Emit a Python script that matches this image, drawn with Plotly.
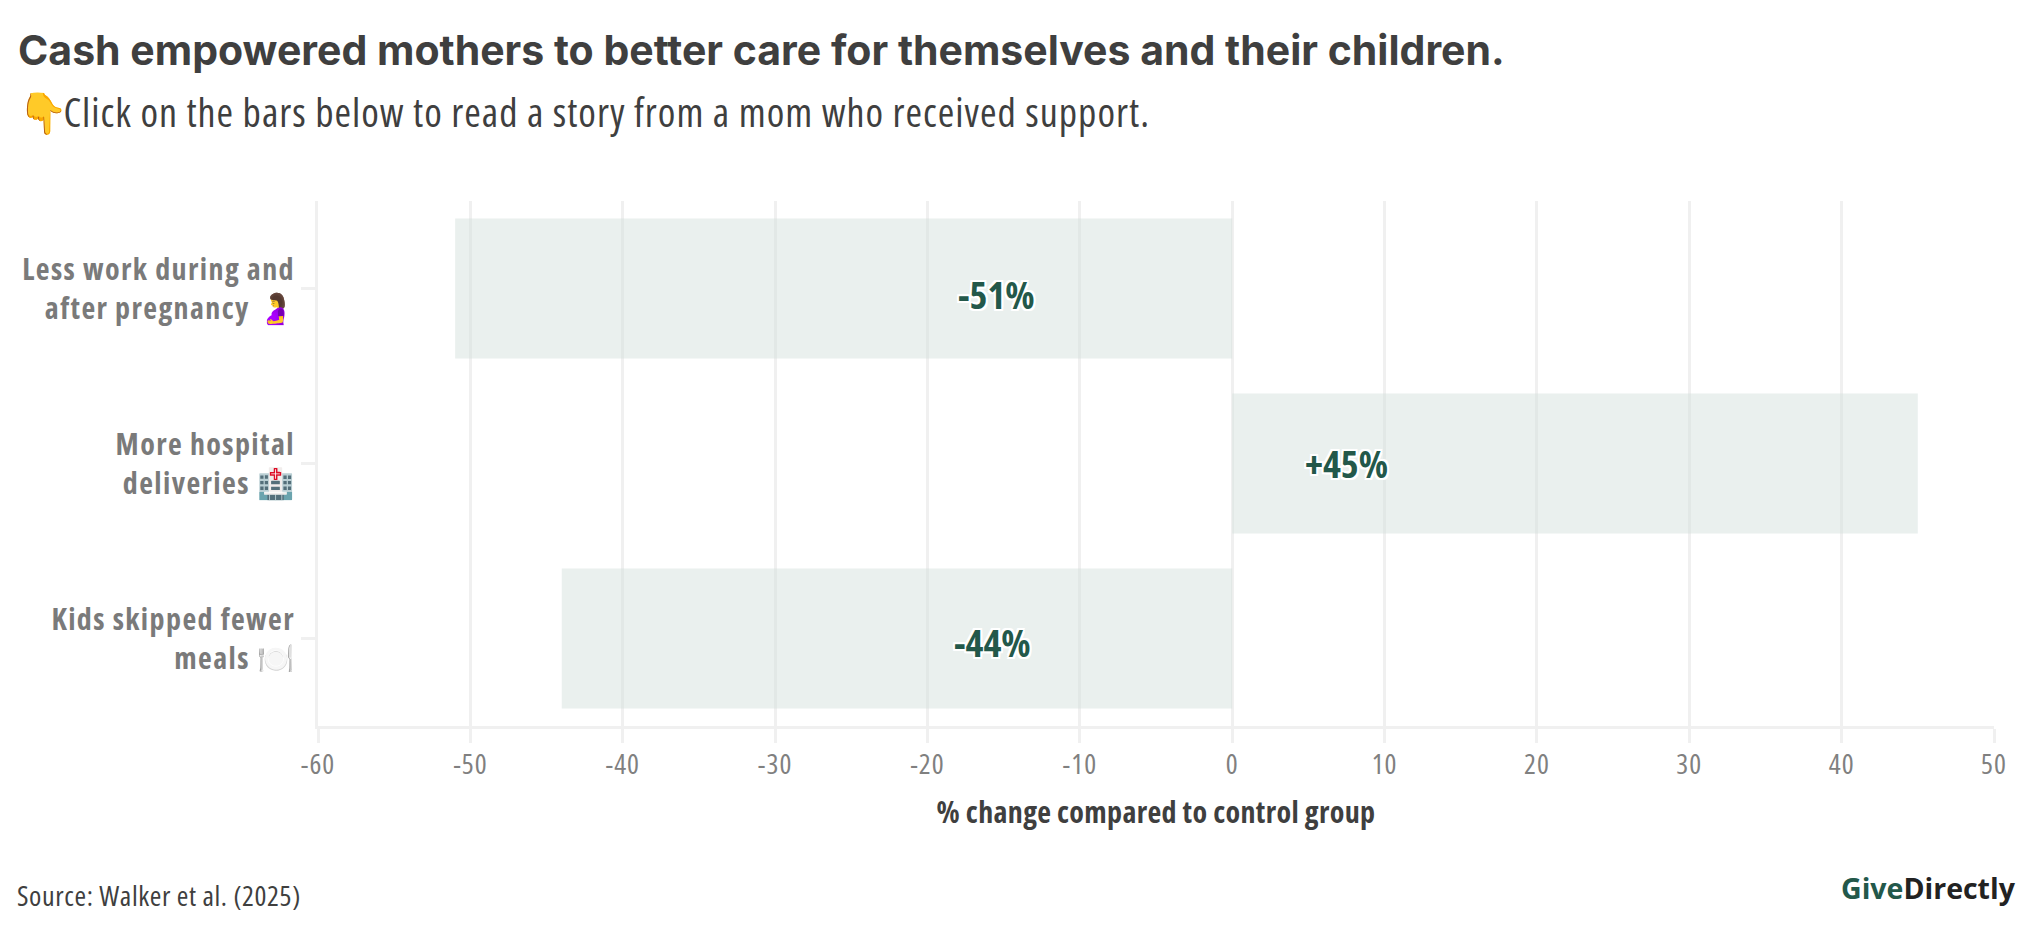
import plotly.graph_objects as go

category_lines = [["Less work during and", "after pregnancy 🤰"], ["More hospital", "deliveries 🏥"], ["Kids skipped fewer", "meals 🍽️"]]
values = [-51, 45, -44]
value_labels = ["-51%", "+45%", "-44%"]
x_ticks = [-60, -50, -40, -30, -20, -10, 0, 10, 20, 30, 40, 50]
x_tick_labels = ["-60", "-50", "-40", "-30", "-20", "-10", "0", "10", "20", "30", "40", "50"]
title_text = "Cash empowered mothers to better care for themselves and their children."
subtitle_emoji = "👇"
subtitle_text = "Click on the bars below to read a story from a mom who received support."
x_title = "% change compared to control group"
source_text = "Source: Walker et al. (2025)"

FONT = "Open Sans"
GREEN = "#23584a"
GRID = "#f0f0f0"
W, H = 2014, 926   # the page adds an 8 px body margin
L, T, PW, PH = 310, 193, 1676, 525


def c(text, ls=0, s=75, color=None):
    col = f"color:{color};" if color else ""
    return f'<span style="{col}font-stretch:{s}%;letter-spacing:{ls}px">{text}</span>'


def cond(size, color, weight="normal", **kw):
    return dict(family=FONT, size=size, color=color, weight=weight, **kw)


categories = ["<br>".join(c(s, 1.4) for s in lines) for lines in category_lines]

fig = go.Figure(go.Bar(
    y=categories, x=values, orientation="h", width=0.8,
    marker=dict(color="rgba(210,223,219,0.47)", line_width=0),
    hoverinfo="skip",
))

HALO = ",".join(f"{dx}px {dy}px 0.5px #fff" for dx in (-2, 0, 2) for dy in (-2, 0, 2) if dx or dy)
label_anchor = [-15.5, 7.5, -15.7]
label_yshift = [-5, 1, -3]
for cat, lab, ax, ys in zip(categories, value_labels, label_anchor, label_yshift):
    fig.add_annotation(x=ax, y=cat, xref="x", yref="y", text=c(lab), showarrow=False, yshift=ys,
                       font=cond(38, GREEN, "bold", shadow=HALO))


def paper_text(x_px, y_px, text, font, anchor="left"):
    fig.add_annotation(x=(x_px - 8 - L) / PW, y=1 - (y_px - 8 - T) / PH, xref="paper", yref="paper", text=text,
                       showarrow=False, xanchor=anchor, yanchor="middle", align=anchor,
                       font=font, borderpad=0, borderwidth=0)


paper_text(18, 50, title_text, dict(family="Inter", size=41, color="#3f3f3f", weight="bold"))
paper_text(18, 112, c(subtitle_emoji) + c(" ", -12) + c(subtitle_text, 1), cond(40, "#3f3f3f"))
paper_text(17, 895, c(source_text, 0.6), cond(28, "#3f3f3f"))
paper_text(2016, 888, c("Give", 0, 100, GREEN) + c("Directly", 0, 100, "#222222"), cond(28.5, "#222222", "bold"), "right")

fig.update_layout(
    width=W, height=H, autosize=False,
    margin=dict(l=L, r=W - L - PW, t=T, b=H - T - PH, autoexpand=False),
    paper_bgcolor="white", plot_bgcolor="white", showlegend=False, bargap=0.2,
    font=dict(family=FONT),
    xaxis=dict(range=[-60, 50], tickmode="array", tickvals=x_ticks, ticktext=[c(t, 1) for t in x_tick_labels],
               showgrid=True, gridcolor=GRID, gridwidth=3, zeroline=False,
               showline=True, linecolor=GRID, linewidth=3,
               ticks="outside", ticklen=14, tickwidth=3, tickcolor=GRID, ticklabelstandoff=-3,
               tickfont=cond(28, "#808080"),
               title=dict(text=c(x_title, 0.35), font=cond(30, "#3f3f3f", "bold"), standoff=22)),
    yaxis=dict(autorange="reversed", categoryorder="array", categoryarray=categories,
               showgrid=False, zeroline=False, showline=True, linecolor=GRID, linewidth=3,
               ticks="outside", ticklen=14, tickwidth=3, tickcolor=GRID,
               tickfont=cond(30, "#7a7a7a", "bold")),
)
fig.write_html("out.html", config={"displayModeBar": False})
